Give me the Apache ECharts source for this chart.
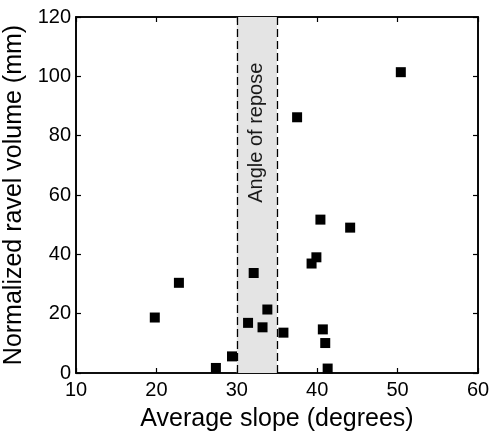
<!DOCTYPE html>
<html>
<head>
<meta charset="utf-8">
<script src="https://cdn.jsdelivr.net/npm/echarts@6/dist/echarts.min.js"></script>
<style>html,body{margin:0;padding:0;background:#fff;}#c{width:492px;height:434px;}</style>
</head>
<body>
<div id="c"></div>
<script>
var slopes = [19.8, 22.8, 27.4, 29.4, 31.4, 32.1, 33.2, 33.8, 35.8, 37.5, 39.3, 39.9, 40.4, 44.1, 40.7, 41.0, 41.3, 50.4];
var volumes = [18.7, 30.4, 1.7, 5.6, 16.9, 33.7, 15.4, 21.4, 13.6, 86.2, 36.9, 39.0, 51.7, 49.0, 14.7, 10.1, 1.5, 101.4];
var reposeRange = [30, 35];
var xTicks = [10, 20, 30, 40, 50, 60];
var yTicks = [0, 20, 40, 60, 80, 100, 120];
var xLabel = 'Average slope (degrees)';
var yLabel = 'Normalized ravel volume (mm)';
var bandLabel = 'Angle of repose';

var FONT = '"Liberation Sans", Arial, Helvetica, sans-serif';
var pts = slopes.map(function (s, i) { return [s, volumes[i]]; });
var xMin = xTicks[0], xMax = xTicks[xTicks.length - 1];
var yMin = yTicks[0], yMax = yTicks[yTicks.length - 1];

var chart = echarts.init(document.getElementById('c'), null, { renderer: 'canvas' });
var axisLine = { show: true, onZero: false, lineStyle: { color: '#000', width: 1.6 } };
var tickIn = { show: true, inside: true, length: 5, lineStyle: { color: '#000', width: 1.2 } };

var option = {
  backgroundColor: '#fff',
  animation: false,
  grid: { left: 76, right: 14, top: 17, bottom: 61, containLabel: false, outerBoundsMode: 'none',
          show: true, borderColor: '#000', borderWidth: 1.6, backgroundColor: 'rgba(0,0,0,0)' },
  xAxis: [{
    type: 'value', min: xMin, max: xMax, interval: 10,
    position: 'bottom',
    name: xLabel, nameLocation: 'middle', nameGap: 34,
    nameTextStyle: { fontFamily: FONT, fontSize: 25, color: '#000' },
    axisLine: axisLine, axisTick: tickIn,
    axisLabel: { fontFamily: FONT, fontSize: 20, color: '#000', margin: 7 },
    splitLine: { show: false }
  }, {
    type: 'value', min: xMin, max: xMax, interval: 10,
    position: 'top',
    axisLine: axisLine, axisTick: tickIn,
    axisLabel: { show: false }, splitLine: { show: false }
  }],
  yAxis: [{
    type: 'value', min: yMin, max: yMax, interval: 20,
    position: 'left',
    name: yLabel, nameLocation: 'middle', nameGap: 41,
    nameTextStyle: { fontFamily: FONT, fontSize: 25, color: '#000' },
    axisLine: axisLine, axisTick: tickIn,
    axisLabel: { fontFamily: FONT, fontSize: 20, color: '#000', margin: 5 },
    splitLine: { show: false }
  }, {
    type: 'value', min: yMin, max: yMax, interval: 20,
    position: 'right',
    axisLine: axisLine, axisTick: tickIn,
    axisLabel: { show: false }, splitLine: { show: false }
  }],
  series: [{
    type: 'scatter',
    data: pts,
    symbol: 'rect',
    symbolSize: 10,
    itemStyle: { color: '#000', opacity: 1 },
    z: 5,
    markArea: {
      silent: true,
      itemStyle: { color: '#e4e4e4', opacity: 1 },
      data: [[{ xAxis: reposeRange[0] }, { xAxis: reposeRange[1] }]]
    },
    markLine: {
      silent: true,
      symbol: 'none',
      label: { show: false },
      lineStyle: { color: '#000', width: 1.3, type: [8, 4], opacity: 1 },
      data: [{ xAxis: reposeRange[0] }, { xAxis: reposeRange[1] }]
    }
  }]
};
chart.setOption(option);

var p = chart.convertToPixel({ xAxisIndex: 0, yAxisIndex: 0 }, [(reposeRange[0] + reposeRange[1]) / 2, 81]);
chart.setOption({
  graphic: [{
    type: 'text',
    x: p[0], y: p[1],
    rotation: Math.PI / 2,
    z: 10,
    style: {
      text: bandLabel,
      fontFamily: FONT, fontSize: 20, fill: '#1a1a1a',
      align: 'center', verticalAlign: 'middle'
    }
  }]
});
</script>
</body>
</html>
